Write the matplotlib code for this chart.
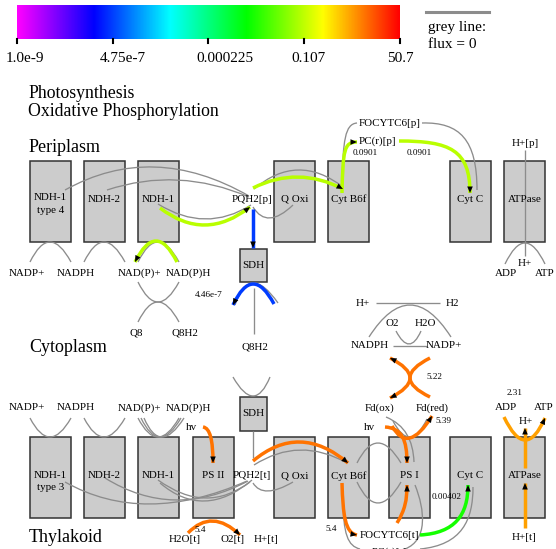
import numpy as np
import matplotlib
matplotlib.use('Agg')
import matplotlib.pyplot as plt
from matplotlib.path import Path
from matplotlib.patches import PathPatch, Polygon, Rectangle
from matplotlib.colors import ListedColormap, LogNorm, hsv_to_rgb

FONT = 'Liberation Serif'
GREY = '#8c8c8c'

# colour scale (log flux)
flux_min = 1e-9
flux_max = 50.7
cbar_ticks = [1e-9, 4.75e-7, 0.000225, 0.107, 50.7]
cbar_labels = ['1.0e-9', '4.75e-7', '0.000225', '0.107', '50.7']

# enzyme boxes
peri_boxes = ['NDH-1\ntype 4', 'NDH-2', 'NDH-1', 'Q Oxi', 'Cyt B6f', 'Cyt C', 'ATPase']
thyl_boxes = ['NDH-1\ntype 3', 'NDH-2', 'NDH-1', 'PS II', 'Q Oxi', 'Cyt B6f', 'PS I', 'Cyt C', 'ATPase']

# metabolite labels
metabolites = ['FOCYTC6[p]', 'PC(r)[p]', 'H+[p]', 'H+', 'ADP', 'ATP',
               'NADP+', 'NADPH', 'NAD(P)+', 'NAD(P)H', 'Q8', 'Q8H2', 'PQH2[p]', 'Q8H2',
               'H+', 'H2', 'O2', 'H2O', 'NADPH', 'NADP+', 'Fd(ox)', 'Fd(red)', 'hv',
               'ADP', 'ATP', 'H+', 'NADP+', 'NADPH', 'NAD(P)+', 'NAD(P)H', 'hv',
               'PQH2[t]', 'H2O[t]', 'O2[t]', 'H+[t]', 'FOCYTC6[t]', 'PC(r)[t]', 'H+[t]']

# flux values printed on the map
flux_text = ['0.0901', '0.0901', '4.46e-7', '5.22', '5.39', '2.31', '0.00402', '5.4', '5.4']

# flux of the coloured reactions
f_pq_p = 0.0901      # NDH-1 / Cyt B6f / PC (periplasm)
f_sdh = 4.46e-7      # SDH
f_fnr = 5.22         # Fd -> NADPH
f_psi = 5.39         # PS I
f_psii = 5.4         # PS II / Cyt B6f (thylakoid)
f_cytc = 0.00402     # FOCYTC6 -> Cyt C
f_atp = 2.31         # ATP synthase

# ---- layout (pixel coords) ----
peri_x = [30, 84, 138, 274, 328, 450, 504]
thyl_x = [30, 84, 138, 193, 274, 328, 389, 450, 504]
cbar_label_shift = [8, 10, 16, 4, 0]
met_xy = [(390, 123), (377, 141), (525, 144), (525, 263), (506, 273), (545, 273),
          (27, 273), (76, 273), (139, 273), (188, 273), (136, 333), (185, 333), (252, 199), (255, 347),
          (363, 303), (452, 303), (392, 324), (425, 324), (370, 346), (444, 346), (380, 408), (432, 408), (369, 427),
          (506, 407), (544, 407), (526, 422), (27, 408), (76, 408), (139, 408), (188, 408), (191, 428),
          (252, 476), (185, 540), (233, 540), (266, 540), (389, 535), (389, 552), (524, 537)]
flux_xy = [(365, 153), (419, 153), (209, 295), (434, 377), (443, 421), (515, 393), (447, 497), (331, 529), (200, 530)]

cmap = ListedColormap(hsv_to_rgb(np.stack([(1 - np.linspace(0, 1, 256)) * 5 / 6,
                                           np.ones(256), np.ones(256)], axis=1)))
norm = LogNorm(flux_min, flux_max)


def arc(p0, mid, p2):
    p0, mid, p2 = np.array(p0, float), np.array(mid, float), np.array(p2, float)
    return [p0, 2 * mid - (p0 + p2) / 2, p2]


def head(ax, tip, prev, size=6.5, half=2.8):
    tip = np.array(tip, float)
    d = tip - np.array(prev, float)
    d /= np.hypot(*d)
    n = np.array([-d[1], d[0]])
    base = tip - d * size
    ax.add_patch(Polygon([tip, base + n * half, base - n * half], closed=True,
                         color='black', lw=0, zorder=5))


def curve(ax, pts, flux=None, end=False, start=False):
    pts = [np.array(p, float) for p in pts]
    codes = [Path.MOVETO] + ([Path.LINETO] if len(pts) == 2 else
                             [Path.CURVE3] * 2 if len(pts) == 3 else [Path.CURVE4] * 3)
    if flux is None:
        col, lw, z = GREY, 0.95, 2
    else:
        col, lw, z = cmap(norm(flux)), 2.5, 3
    ax.add_patch(PathPatch(Path(pts, codes), fill=False, edgecolor=col, lw=lw,
                           capstyle='butt', zorder=z))
    if end:
        head(ax, pts[-1], pts[-2])
    if start:
        head(ax, pts[0], pts[1])


fig = plt.figure(figsize=(5.56, 5.49), dpi=100)
ax = fig.add_axes([0, 0, 1, 1])

# colour bar
ax.imshow(np.linspace(0, 1, 256)[None, :], cmap=cmap, extent=(17, 400, 39, 5),
          aspect='auto', zorder=1)
for v, lab, dx in zip(cbar_ticks, cbar_labels, cbar_label_shift):
    x = 17 + norm(v) * 383
    ax.plot([x, x], [39, 43], color='black', lw=1.5, zorder=2)
    ax.text(x + dx, 58, lab, ha='center', va='center', fontsize=11, family=FONT)
ax.plot([426, 489], [12, 12], color=GREY, lw=2.2)
ax.text(428, 28, 'grey line:', ha='left', va='center', fontsize=11, family=FONT)
ax.text(428, 45, 'flux = 0', ha='left', va='center', fontsize=11, family=FONT)

ax.text(28, 93, 'Photosynthesis', ha='left', va='center', fontsize=12.8, family=FONT)
ax.text(28, 112, 'Oxidative Phosphorylation', ha='left', va='center', fontsize=12.8, family=FONT)
ax.text(29, 148, 'Periplasm', ha='left', va='center', fontsize=13, family=FONT)
ax.text(29, 348, 'Cytoplasm', ha='left', va='center', fontsize=13, family=FONT)
ax.text(29, 538, 'Thylakoid', ha='left', va='center', fontsize=13, family=FONT)


def box(x, y, w, h, name, ly):
    ax.add_patch(Rectangle((x, y), w, h, facecolor='#cccccc', edgecolor='#333333', lw=1.1, zorder=1))
    parts = name.split('\n')
    for i, p in enumerate(parts):
        ax.text(x + w / 2, ly + i * 12.5, p, ha='center', va='center', fontsize=7.9, family=FONT, zorder=4)


for name, x in zip(peri_boxes, peri_x):
    box(x, 161, 41, 81, name, 199 if '\n' not in name else 198)
for name, x in zip(thyl_boxes, thyl_x):
    box(x, 437, 41, 81, name, 476 if '\n' not in name else 475)
box(240, 249, 27, 33, 'SDH', 266)
box(240, 397, 27, 34, 'SDH', 414)

for name, (x, y) in zip(metabolites, met_xy):
    ax.text(x, y, name, ha='center', va='center', fontsize=7.9, family=FONT, zorder=4)
for t, (x, y) in zip(flux_text, flux_xy):
    ax.text(x, y, t, ha='center', va='center', fontsize=6.6, family=FONT, zorder=4)

# ---- grey reactions (flux = 0) ----
for x0 in [30, 84, 138]:
    curve(ax, arc((x0, 262), (x0 + 20, 242), (x0 + 41, 262)))
    curve(ax, arc((x0, 418), (x0 + 20, 437), (x0 + 41, 418)))
curve(ax, arc((141, 418), (160, 437), (181, 418)))
curve(ax, arc((144, 418), (162, 437), (184, 418)))
curve(ax, arc((138, 282), (158, 302), (179, 282)))
curve(ax, arc((138, 322), (158, 302), (179, 322)))
curve(ax, arc((65, 190), (155, 167), (249, 196)))
curve(ax, arc((107, 190), (178, 180), (249, 197)))
curve(ax, arc((158, 204), (205, 219), (251, 205)))
curve(ax, arc((253, 207), (270, 218), (293, 205)))
curve(ax, arc((254, 189), (298, 170), (343, 187)))
curve(ax, [(342, 185), (343, 140), (345, 124), (357, 123)])
curve(ax, [(422, 123), (460, 122), (477, 140), (477, 190)])
curve(ax, [(525, 150), (525, 256)])
curve(ax, arc((505, 264), (525, 243), (545, 264)))
curve(ax, arc((235, 305), (253, 283), (278, 303)))
curve(ax, [(254, 288), (254, 334)])
curve(ax, arc((233, 377), (253, 396), (270, 377)))
curve(ax, [(253, 431), (253, 458)])
curve(ax, [(376, 303), (440, 303)])
curve(ax, arc((369, 337), (410, 305), (451, 337)))
curve(ax, [(393, 346), (427, 346)])
curve(ax, arc((396, 331), (409, 344), (421, 331)))
curve(ax, arc((65, 482), (150, 504), (247, 481)))
curve(ax, arc((105, 478), (175, 500), (248, 481)))
curve(ax, arc((158, 480), (205, 498), (250, 482)))
curve(ax, arc((160, 483), (205, 501), (252, 480)))
curve(ax, arc((253, 483), (268, 491), (293, 482)))
curve(ax, arc((254, 465), (300, 450), (347, 463)))
curve(ax, arc((357, 463), (378, 443), (401, 463)))
curve(ax, arc((357, 482), (378, 503), (401, 482)))
curve(ax, arc((393, 421), (410, 437), (427, 419)))
curve(ax, [(386, 417), (405, 425), (413, 440), (414, 462)])
curve(ax, [(415, 485), (425, 510), (428, 540), (405, 549)])
curve(ax, [(343, 497), (343, 535), (348, 546), (360, 549)])
curve(ax, [(420, 549), (462, 545), (473, 520), (473, 487)])

# ---- coloured reactions ----
curve(ax, arc((160, 208), (205, 225), (250, 207)), f_pq_p, end=True)
curve(ax, arc((177, 262), (156, 241), (135, 262)), f_pq_p, end=True)
curve(ax, arc((253, 188), (298, 177), (343, 189)), f_pq_p, end=True)
curve(ax, [(342, 193), (343, 150), (344, 142), (357, 142)], f_pq_p, end=True)
curve(ax, [(399, 141), (450, 141), (470, 150), (470, 193)], f_pq_p, end=True)
curve(ax, [(253, 209), (253, 248)], f_sdh, end=True)
curve(ax, arc((274, 304), (253, 284), (233, 305)), f_sdh, end=True)
curve(ax, [(390, 358), (430, 378), (390, 398)], f_fnr, end=True, start=True)
curve(ax, [(430, 358), (390, 378), (430, 397)], f_fnr)
curve(ax, arc((392, 426), (410, 438), (432, 416)), f_psi, end=True)
curve(ax, [(385, 427), (402, 428), (407, 440), (407, 463)], f_psi, end=True)
curve(ax, [(203, 427), (210, 428), (213, 440), (213, 463)], f_psii, end=True)
curve(ax, arc((188, 533), (213, 521), (240, 535)), f_psii, end=True)
curve(ax, arc((253, 461), (300, 442), (348, 463)), f_psii, end=True)
curve(ax, [(342, 483), (343, 515), (345, 533), (357, 535)], f_psii, end=True)
curve(ax, [(397, 523), (405, 510), (407, 500), (407, 485)], f_psi, end=True)
curve(ax, [(420, 535), (455, 533), (468, 515), (468, 485)], f_cytc, end=True)
curve(ax, arc((504, 417), (525, 440), (545, 418)), f_atp, end=True)
curve(ax, [(525, 528), (525, 483)], f_atp, end=True)
curve(ax, [(525, 468), (525, 428)], f_atp, end=True)

ax.set_xlim(0, 556)
ax.set_ylim(549, 0)
ax.axis('off')
plt.savefig('out.png', dpi=100)
